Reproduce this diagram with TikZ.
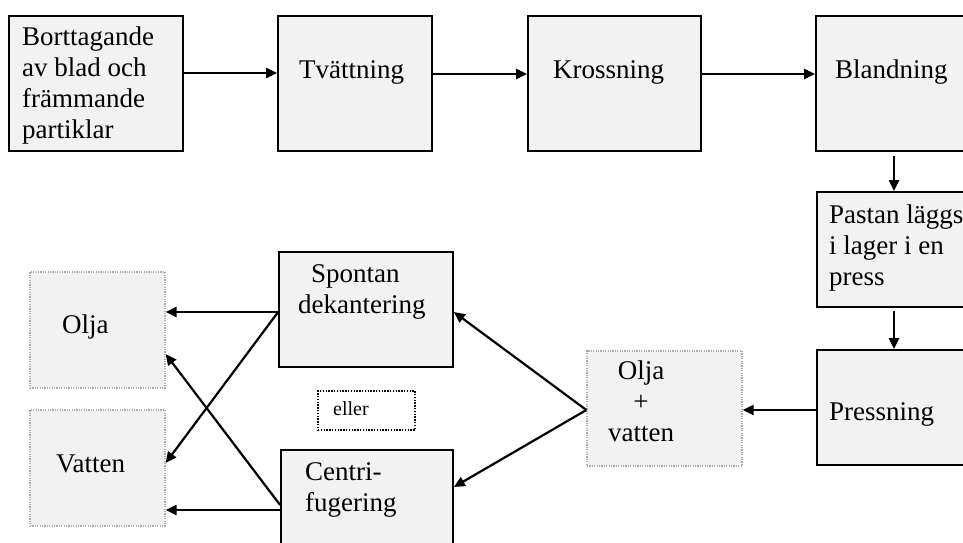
\documentclass[tikz,border=0pt]{standalone}
\usepackage{fontspec}
\setmainfont{Liberation Serif}
\usetikzlibrary{arrows.meta}
\definecolor{boxfill}{HTML}{F2F2F2}
\definecolor{dotgray}{HTML}{ABABAB}
\begin{document}
\begin{tikzpicture}[x=1pt,y=-1pt,
  solidbox/.style={draw=black, line width=1.8pt, fill=boxfill, rectangle, inner sep=0pt},
  dotbox/.style={draw=dotgray, dash pattern=on 1.2pt off 1.2pt, line width=1.3pt, fill=boxfill, rectangle, inner sep=0pt},
  ellerbox/.style={draw=black, dash pattern=on 1.4pt off 1.4pt, line width=1.6pt, fill=white, rectangle, inner sep=0pt},
  txt/.style={inner sep=0pt, font=\fontsize{27}{31}\selectfont, align=left},
  arr/.style={line width=2.2pt, -{Triangle[length=11pt,width=10pt]}}]
\useasboundingbox (0,0) rectangle (963,542);
\clip (0,0) rectangle (963,542);
% boxes
\node[solidbox, minimum width=174pt, minimum height=135pt] (b1) at (96,83.5) {};
\node[solidbox, minimum width=154pt, minimum height=135pt] (b2) at (355,83.5) {};
\node[solidbox, minimum width=173pt, minimum height=135pt] (b3) at (614.5,83.5) {};
\node[solidbox, minimum width=174pt, minimum height=135pt] (b4) at (903,83.5) {};
\node[solidbox, minimum width=173pt, minimum height=115pt] (b5) at (903.5,249.5) {};
\node[solidbox, minimum width=173pt, minimum height=115pt] (b6) at (903.5,407.5) {};
\node[dotbox, minimum width=155pt, minimum height=115pt] (b7) at (664.5,408.5) {};
\node[solidbox, minimum width=174pt, minimum height=115pt] (b8) at (366,309.5) {};
\node[solidbox, minimum width=172pt, minimum height=115pt] (b9) at (367,507.5) {};
\node[ellerbox, minimum width=97pt, minimum height=39pt] (b10) at (366.5,410.5) {};
\node[dotbox, minimum width=135pt, minimum height=116pt] (b11) at (97.5,330) {};
\node[dotbox, minimum width=135pt, minimum height=116pt] (b12) at (97.5,468) {};
% texts
\node[txt, anchor=north west] (t1) at (22,23.3) {\strut Borttagande\\av blad och\\främmande\\partiklar};
\node[txt, anchor=base west] (t2) at (299,78) {Tvättning};
\node[txt, anchor=base west] (t3) at (553,78) {Krossning};
\node[txt, anchor=base west] (t4) at (835,78) {Blandning};
\node[txt, anchor=north west] (t5) at (829,201.3) {\strut Pastan läggs\\i lager i en\\press};
\node[txt, anchor=base west] (t6) at (829,420) {Pressning};
\node[txt, anchor=north, align=center] (t7) at (641,357.3) {\strut Olja\\+\\vatten};
\node[txt, anchor=north west] (t8) at (298,260.3) {\strut\hspace*{13pt}Spontan\\dekantering};
\node[txt, anchor=north west] (t9) at (305,458.3) {\strut Centri-\\fugering};
\node[inner sep=0pt, anchor=base west, font=\fontsize{20}{24}\selectfont] (t10) at (333,415) {eller};
\node[txt, anchor=base west] (t11) at (62,333) {Olja};
\node[txt, anchor=base west] (t12) at (56,472) {Vatten};
% arrows
\draw[arr] ([yshift=10.5pt]b1.east) -- ([yshift=10.5pt]b2.west);
\draw[arr] ([yshift=9.5pt]b2.east) -- ([yshift=9.5pt]b3.west);
\draw[arr] ([yshift=9.5pt]b3.east) -- ([yshift=9.5pt]b4.west);
\draw[arr] ([xshift=-9pt,yshift=-4pt]b4.south) -- ([xshift=-9.5pt]b5.north);
\draw[arr] ([xshift=-9.5pt,yshift=-3pt]b5.south) -- ([xshift=-9.5pt]b6.north);
\draw[arr] ([yshift=-2.5pt]b6.west) -- ([yshift=-1.5pt]b7.east);
\draw[arr] ([yshift=-1.5pt]b7.west) -- ([yshift=-2.5pt]b8.east);
\draw[arr] ([yshift=-1.5pt]b7.west) -- ([yshift=20.5pt]b9.east);
\draw[arr] ([yshift=-2.5pt]b8.west) -- ([yshift=18pt]b11.east);
\draw[arr] ([yshift=-2.5pt]b8.west) -- ([yshift=5pt]b12.east);
\draw[arr] ([yshift=-2.5pt]b9.west) -- ([yshift=-42pt]b12.east);
\draw[arr] ([yshift=2.5pt]b9.west) -- ([yshift=-24pt]b11.east);
\end{tikzpicture}
\end{document}
